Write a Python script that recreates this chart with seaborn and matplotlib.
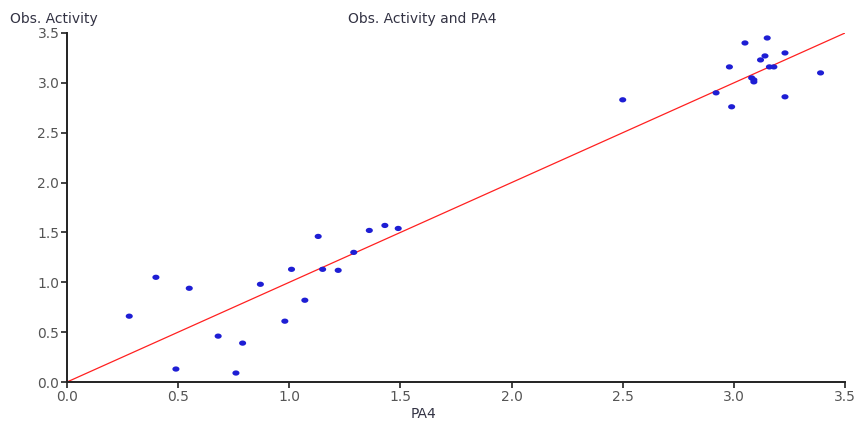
import matplotlib
matplotlib.use('Agg')
import matplotlib.pyplot as plt
from matplotlib.path import Path
import numpy as np
import pandas as pd
import seaborn as sns

pa4 = [0.28, 0.40, 0.55, 0.49, 0.68, 0.79, 0.76, 0.87, 0.98, 1.01,
       1.07, 1.13, 1.15, 1.22, 1.29, 1.36, 1.43, 1.49, 2.50, 2.92,
       2.99, 2.98, 3.05, 3.15, 3.08, 3.09, 3.09, 3.12, 3.14, 3.16,
       3.18, 3.23, 3.23, 3.39]
obs = [0.66, 1.05, 0.94, 0.13, 0.46, 0.39, 0.09, 0.98, 0.61, 1.13,
       0.82, 1.46, 1.13, 1.12, 1.30, 1.52, 1.57, 1.54, 2.83, 2.90,
       2.76, 3.16, 3.40, 3.45, 3.05, 3.03, 3.01, 3.23, 3.27, 3.16,
       3.16, 3.30, 2.86, 3.10]
ref_line = [0.0, 3.5]
ticks = [0.0, 0.5, 1.0, 1.5, 2.0, 2.5, 3.0, 3.5]

df = pd.DataFrame({'PA4': pa4, 'Obs. Activity': obs})

sns.set_style('white')
plt.rcParams['font.family'] = ['DejaVu Sans']

# flat oval dot like the original
theta = np.linspace(0, 2 * np.pi, 40)
oval = Path(np.column_stack([1.35 * np.cos(theta), np.sin(theta)]), closed=True)

fig = plt.figure(figsize=(8.57, 4.21), dpi=100)
ax = fig.add_axes([67 / 857, 1 - 382 / 421, (845 - 67) / 857, (382 - 33) / 421])

ax.plot(ref_line, ref_line, color='#ff2020', lw=0.9, zorder=1)
sns.scatterplot(data=df, x='PA4', y='Obs. Activity', ax=ax, color='#1e1ed4',
                s=26, marker=oval, edgecolor='none', zorder=2)

ax.set_xlim(0, 3.5)
ax.set_ylim(0, 3.5)
ax.set_xticks(ticks)
ax.set_yticks(ticks)
ax.set_xticklabels([f'{t:.1f}' for t in ticks])
ax.set_yticklabels([f'{t:.1f}' for t in ticks])
ax.tick_params(axis='both', direction='out', length=4, width=1.2, color='#222222',
               labelsize=10, labelcolor='#555555', pad=1.5, left=True, bottom=True)
sns.despine(ax=ax)
for s in ['left', 'bottom']:
    ax.spines[s].set_color('#222222')
    ax.spines[s].set_linewidth(1.4)
ax.set_xlabel('')
ax.set_ylabel('')

fig.text(10 / 857, 1 - 19 / 421, 'Obs. Activity', fontsize=10, color='#333344',
         va='center', ha='left')
fig.text(422 / 857, 1 - 19 / 421, 'Obs. Activity and PA4', fontsize=10,
         color='#333344', va='center', ha='center')
fig.text(423 / 857, 1 - 414 / 421, 'PA4', fontsize=10, color='#333344',
         va='center', ha='center')

fig.savefig('out.png', dpi=100)
